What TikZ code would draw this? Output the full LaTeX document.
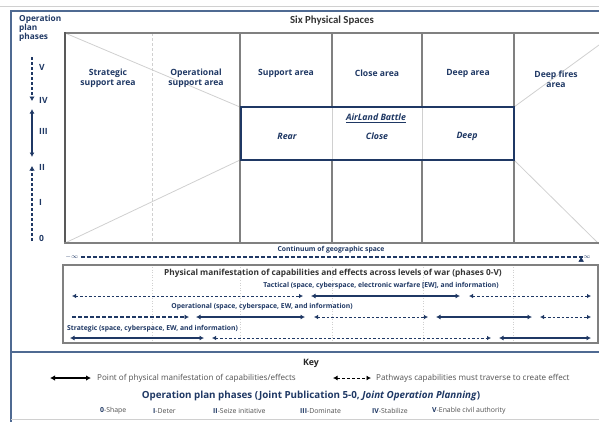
\documentclass[tikz,border=0pt]{standalone}
\usepackage{fontspec}
\setmainfont{Open Sans}
\newfontfamily\titlefont{Carlito}
\usetikzlibrary{arrows.meta}
\definecolor{navy}{HTML}{1F3864}
\definecolor{gline}{HTML}{808080}
\definecolor{lgray}{HTML}{D0D0D0}
\definecolor{framec}{HTML}{4F6A92}
\definecolor{txtgray}{HTML}{505050}
\begin{document}
\begin{tikzpicture}[x=1pt,y=-1pt,
  area/.style={font=\bfseries\fontsize{8.6}{9.6}\selectfont, text=navy, align=center, inner sep=0pt},
  ital/.style={font=\bfseries\itshape\fontsize{8.8}{9.6}\selectfont, text=navy, inner sep=0pt},
  phase/.style={font=\bfseries\fontsize{8.5}{9}\selectfont, text=navy, inner sep=0pt},
  small/.style={font=\bfseries\fontsize{6.8}{7.5}\selectfont, text=navy, inner sep=0pt},
  gridln/.style={draw=gline, line width=1.6pt},
  diag/.style={draw=lgray, line width=0.8pt},
  solidarr/.style={draw=navy, line width=1.6pt, {Latex[length=4.5pt,width=5pt]}-{Latex[length=4.5pt,width=5pt]}},
  dasharr/.style={draw=navy, line width=0.8pt, dash pattern=on 2.5pt off 2pt, {Latex[length=4pt,width=4.5pt]}-{Latex[length=4pt,width=4.5pt]}},
  heavydash/.style={draw=navy, line width=2pt, dash pattern=on 4pt off 2pt},
  keytxt/.style={font=\fontsize{8.1}{8.8}\selectfont, text=txtgray, inner sep=0pt, anchor=west},
]
\useasboundingbox (0,0) rectangle (599,421);
\clip (0,0) rectangle (599,421);
% top light line and outer frame
\draw[lgray, line width=1pt] (0,6) -- (599,6);
\draw[framec, line width=1.6pt] (11,430) -- (11,11) -- (610,11);
\draw[framec, line width=1.8pt] (11,352) -- (610,352);
\draw[lgray, line width=0.8pt] (11,419) -- (610,419);

% header
\node[font=\titlefont\bfseries\fontsize{10.8}{12}\selectfont, text=black!80, inner sep=0pt] (title) at (332,21) {Six Physical Spaces};

% left label
\node[font=\bfseries\fontsize{8.3}{8.8}\selectfont, text=navy, align=left, anchor=north west, inner sep=0pt] (opp) at (19,15) {Operation\\plan\\phases};

% grid diagonals
\draw[diag] (65,33) -- (240,107);
\draw[diag] (65,243) -- (240,160);
\draw[diag] (514,107) -- (599,45);
\draw[diag] (514,160) -- (599,244);
% dashed column line
\draw[lgray, line width=1pt, dash pattern=on 3pt off 2pt] (152,33) -- (152,243);
% grid
\draw[gridln] (65,33) -- (610,33);
\draw[draw=black!65, line width=1.8pt] (65,32) -- (65,244);
\draw[gridln, line width=2pt] (64,243) -- (610,243);
\foreach \x in {240,332,422,514} {\draw[gridln] (\x,33) -- (\x,243);}
% AirLand box
\fill[white] (241,107) rectangle (514,160);
\draw[lgray, line width=0.8pt] (332,107) -- (332,160) (422,107) -- (422,160);
\draw[navy, line width=1.3pt] (241,107) rectangle (514,160);

% area labels
\node[area] (ssa) at (108,78) {Strategic\\support area};
\node[area] (osa) at (196,78) {Operational\\support area};
\node[area] (sa) at (286,73) {Support area};
\node[area] (ca) at (377,73) {Close area};
\node[area] (da) at (468,73) {Deep area};
\node[area] (dfa) at (556,79) {Deep fires\\area};
\node[ital] (alb) at (376,118) {\underline{AirLand Battle}};
\node[ital] (rear) at (287,136) {Rear};
\node[ital] (close) at (377,136) {Close};
\node[ital] (deep) at (467,136) {Deep};

% phase axis
\foreach \n/\y/\t in {p5/67/V,p4/100/IV,p3/131/III,p2/167/II,p1/202/I,p0/238/0}
  {\node[phase, anchor=west] (\n) at (39,\y) {\t};}
\coordinate (a1) at (32,57);
\coordinate (a2) at (32,101);
\coordinate (a3) at (32,109);
\coordinate (a4) at (32,157);
\coordinate (a5) at (32,166);
\coordinate (a6) at (32,241);
\draw[navy, line width=1.8pt, dash pattern=on 3pt off 2pt, -{Latex[length=4.5pt,width=5.5pt]}] (a1) -- (a2);
\draw[solidarr, line width=1.8pt] (a3) -- (a4);
\draw[navy, line width=1.8pt, dash pattern=on 3pt off 2pt, -{Latex[length=4.5pt,width=5.5pt]}] (a6) -- (a5);

% continuum
\node[small] (cont) at (331,250) {Continuum of geographic space};
\node[font=\fontsize{6.5}{7}\selectfont, text=navy, inner sep=0pt] (minf) at (72,257) {$-\infty$};
\node[font=\fontsize{6.5}{7}\selectfont, text=navy, inner sep=0pt] (pinf) at (587,257) {$\infty$};
\draw[heavydash, {Latex[length=4.5pt,width=5.5pt]}-{Latex[length=4.5pt,width=5.5pt]}] (minf.east) ++(2,0) coordinate (c1) -- (pinf.west) ++(-2,0) coordinate (c2);

% physical manifestation box
\draw[gline, line width=1.6pt] (63,265) rectangle (598,343);
\foreach \x in {152,240,332,423,513} {\draw[lgray, line width=0.6pt, dotted] (\x,267) -- (\x,341);}
\node[font=\bfseries\fontsize{8.3}{9}\selectfont, text=black!80, inner sep=0pt] (pmt) at (333,273) {Physical manifestation of capabilities and effects across levels of war (phases 0-V)};
\node[small] (tac) at (381,286) {Tactical (space, cyberspace, electronic warfare [EW], and information)};
\node[small] (opl) at (262,307) {Operational (space, cyberspace, EW, and information)};
\node[small, anchor=west] (str) at (67,329) {Strategic (space, cyberspace, EW, and information)};

% tactical row
\coordinate (t0) at (72,296); \coordinate (t1) at (303,296);
\coordinate (t2) at (311,296); \coordinate (t3) at (460,296);
\coordinate (t4) at (469,296); \coordinate (t5) at (591,296);
\draw[dasharr] (t0) -- (t1);
\draw[solidarr] (t2) -- (t3);
\draw[dasharr] (t4) -- (t5);
% operational row
\coordinate (o0) at (72,317); \coordinate (o1) at (189,317);
\coordinate (o2) at (196,317); \coordinate (o3) at (305,317);
\coordinate (o4) at (314,317); \coordinate (o5) at (428,317);
\coordinate (o6) at (436,317); \coordinate (o7) at (532,317);
\coordinate (o8) at (540,317); \coordinate (o9) at (591,317);
\draw[heavydash, line width=1.8pt, -{Latex[length=4.5pt,width=5pt]}] (o0) -- (o1);
\draw[solidarr] (o2) -- (o3);
\draw[dasharr] (o4) -- (o5);
\draw[solidarr] (o6) -- (o7);
\draw[dasharr] (o8) -- (o9);
% strategic row
\coordinate (s0) at (70,338); \coordinate (s1) at (204,338);
\coordinate (s2) at (212,338); \coordinate (s3) at (491,338);
\coordinate (s4) at (499,338); \coordinate (s5) at (591,338);
\draw[solidarr] (s0) -- (s1);
\draw[dasharr] (s2) -- (s3);
\draw[solidarr] (s4) -- (s5);

% key
\node[font=\bfseries\fontsize{8.8}{10}\selectfont, text=black!85, inner sep=0pt] (key) at (311,363) {Key};
\coordinate (k1) at (50,378); \coordinate (k2) at (91,378);
\draw[black, line width=1.8pt, {Latex[length=5pt,width=5.5pt]}-{Latex[length=5pt,width=5.5pt]}] (k1) -- (k2);
\node[keytxt] (k1t) at (97,378) {Point of physical manifestation of capabilities/effects};
\coordinate (k3) at (333,378); \coordinate (k4) at (371,378);
\draw[black, line width=0.9pt, dash pattern=on 3pt off 2pt, {Latex[length=4.5pt,width=5pt]}-{Latex[length=4.5pt,width=5pt]}] (k3) -- (k4);
\node[keytxt] (k2t) at (376,378) {Pathways capabilities must traverse to create effect};
\node[font=\bfseries\fontsize{9.8}{10.5}\selectfont, text=navy, inner sep=0pt] (opt) at (311,396) {Operation plan phases (Joint Publication 5-0, \textit{Joint Operation Planning})};
\foreach \n/\x/\r/\w in {ph0/100/0/Shape, ph1/153/I/Deter, ph2/213/II/Seize initiative, ph3/300/III/Dominate, ph4/372/IV/Stabilize, ph5/432/V/Enable civil authority}
  {\node[inner sep=0pt, anchor=west, font=\fontsize{6.9}{7.5}\selectfont] (\n) at (\x,411) {\textcolor{navy}{\bfseries\r}\textcolor{txtgray}{-\w}};}
\end{tikzpicture}
\end{document}
